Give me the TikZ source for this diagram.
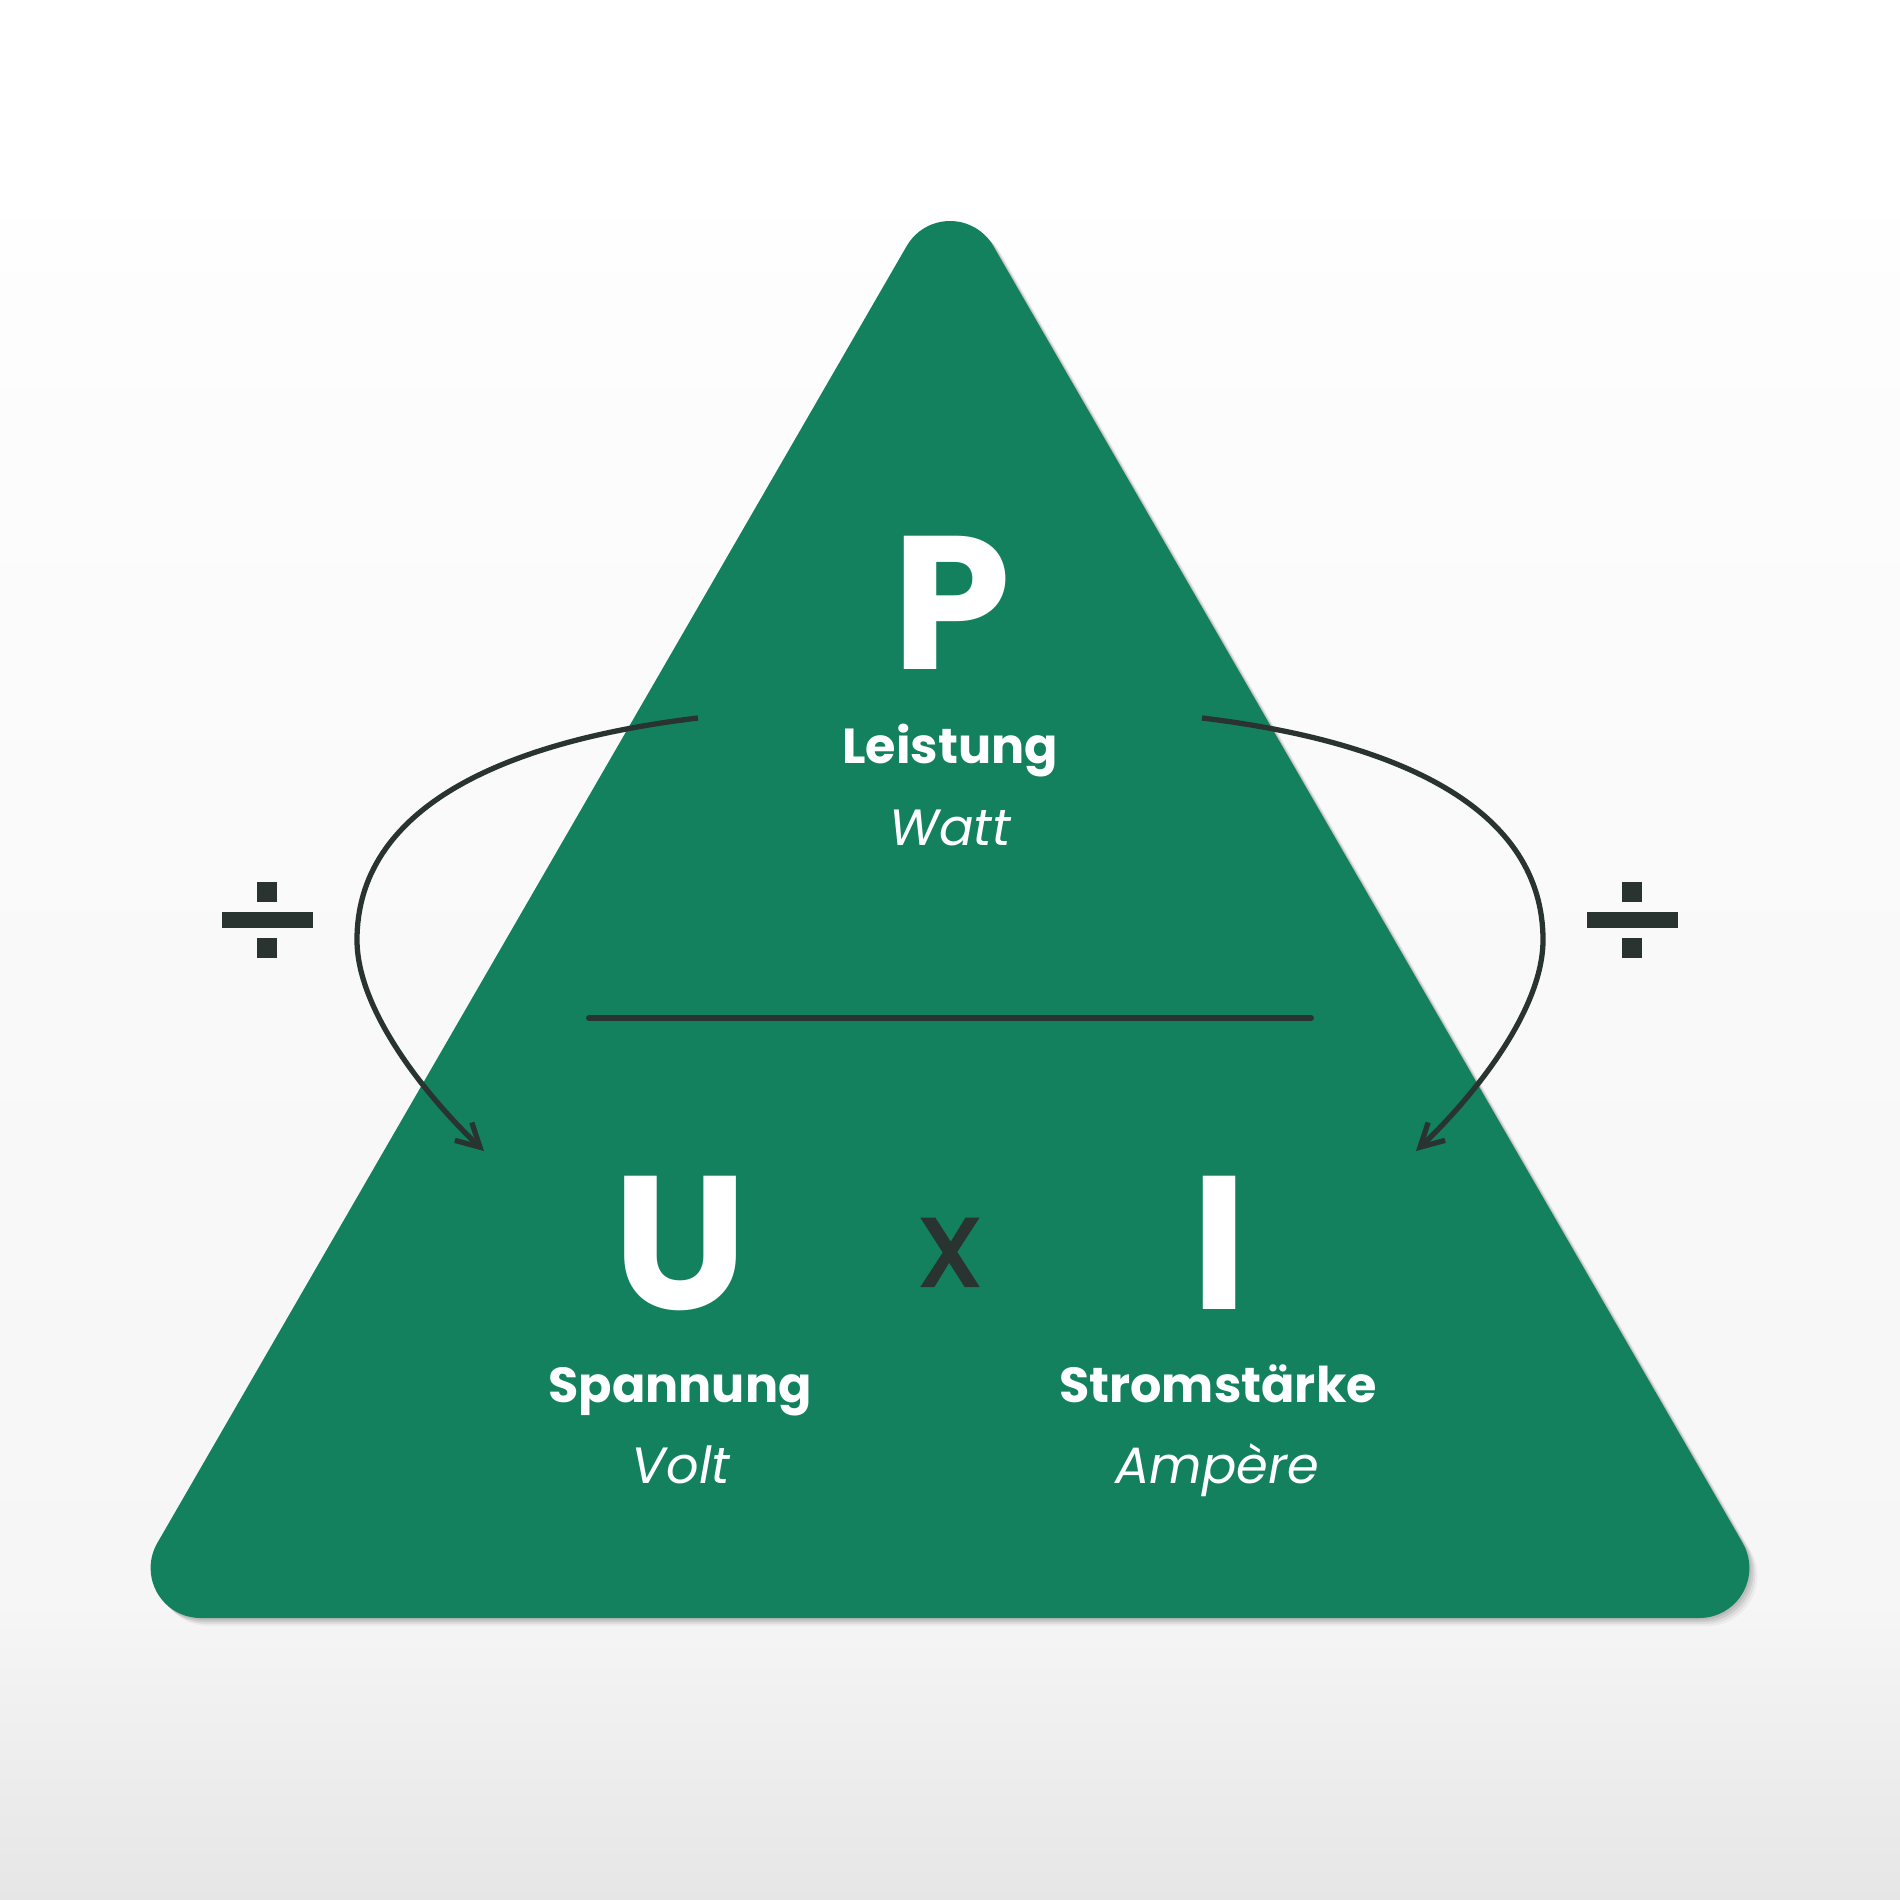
\documentclass[tikz,border=0pt]{standalone}
\usepackage{fontspec}
\setmainfont{Poppins}
\newfontfamily\xfont[FakeBold=1.6]{Poppins}
\usetikzlibrary{arrows.meta}
\definecolor{tgreen}{RGB}{19,129,93}
\definecolor{tdark}{RGB}{41,51,47}
\definecolor{bgA}{RGB}{230,230,230}
\definecolor{bgB}{RGB}{246,246,246}
\definecolor{bgC}{RGB}{249,249,249}
\definecolor{bgD}{RGB}{253,253,253}
\pgfdeclareverticalshading{bgshade}{100bp}{color(0bp)=(bgA); color(25bp)=(bgA); color(32.9bp)=(bgB); color(48.7bp)=(bgC); color(67.1bp)=(bgD); color(70bp)=(white); color(100bp)=(white)}
\begin{document}
\begin{tikzpicture}[x=0.01cm,y=-0.01cm,
  big/.style={font=\bfseries\fontsize{54}{54}\selectfont, text=white, anchor=base, inner sep=0pt},
  lbl/.style={font=\bfseries\fontsize{14}{14}\selectfont, text=white, anchor=base, inner sep=0pt},
  unitlbl/.style={font=\itshape\fontsize{14.5}{14.5}\selectfont, text=white, anchor=base, inner sep=0pt},
  conn/.style={draw=tdark, line width=1.5pt, -{Straight Barb[length=6.5pt,width=7pt]}}]
\useasboundingbox (0,0) rectangle (1900,1900);
\shade[shading=bgshade] (0,0) rectangle (1900,1900);
% rounded equilateral triangle (corner radius 50)
\def\tripath{(906.7,246) arc[start angle=210, end angle=330, radius=50] -- (1742.7,1543) arc[start angle=-30, end angle=90, radius=50] -- (200.6,1618) arc[start angle=90, end angle=210, radius=50] -- cycle}
\foreach \d/\o in {8/0.04,6/0.06,4/0.08,2/0.08}{
  \fill[black, opacity=\o, shift={(\d,\d)}] \tripath;
}
\fill[tgreen] \tripath;
% divider
\coordinate (h1) at (589,1018);
\coordinate (h2) at (1311,1018);
\draw[tdark, line width=1.7pt, line cap=round] (h1) -- (h2);
% letters
\node[big] (P) at (952,669) {P};
\node[lbl] (leistung) at (950,763) {Leistung};
\node[unitlbl] (watt) at (950,845) {Watt};
\node[big] (U) at (680,1309) {U};
\node[font=\xfont\fontsize{35}{35}\selectfont, text=tdark, anchor=base, inner sep=0pt] (times) at (950,1286) {x};
\node[big] (I) at (1219,1309) {I};
\node[lbl] (spannung) at (680,1402) {Spannung};
\node[unitlbl] (volt) at (681,1483) {Volt};
\node[lbl] (strom) at (1218,1402) {Stromstärke};
\node[unitlbl] (ampere) at (1217,1483) {Ampère};
% arrows
\coordinate (ls) at (698,718);
\coordinate (lm) at (357,940);
\coordinate (le) at (484,1151);
\coordinate (rs) at (1202,718);
\coordinate (rm) at (1543,940);
\coordinate (re) at (1416,1151);
\draw[conn] (ls) .. controls (498,742) and (357,810) .. (lm) .. controls (357,1010) and (426,1096) .. (le);
\draw[conn] (rs) .. controls (1402,742) and (1543,810) .. (rm) .. controls (1543,1010) and (1474,1096) .. (re);
% division signs
\foreach \cx in {267,1632}{
  \fill[tdark] (\cx-45,912) rectangle (\cx+46,928);
  \fill[tdark] (\cx-10,882) rectangle (\cx+10,902);
  \fill[tdark] (\cx-10,938) rectangle (\cx+10,958);
}
\end{tikzpicture}
\end{document}
